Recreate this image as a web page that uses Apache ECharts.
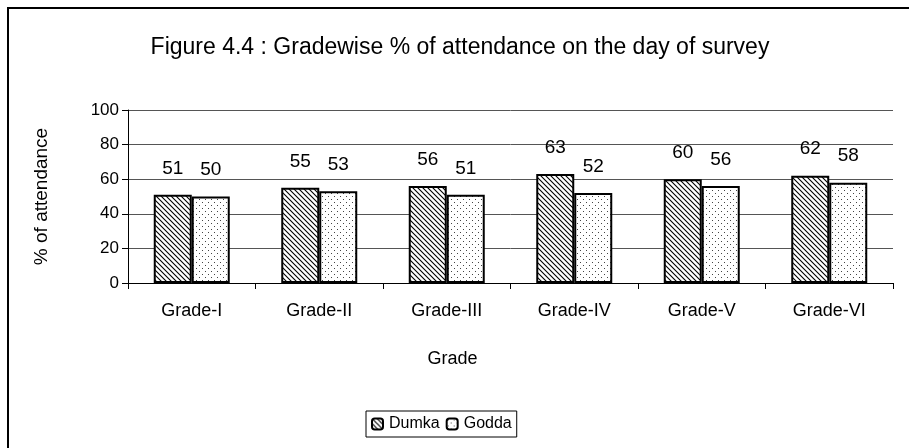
<!DOCTYPE html>
<html>
<head>
<meta charset="utf-8">
<script src="https://cdn.jsdelivr.net/npm/echarts@6/dist/echarts.min.js"></script>
<style>
  html, body { margin: 0; padding: 0; background: #fff; }
  #chart { width: 909px; height: 448px; }
</style>
</head>
<body>
<div id="chart"></div>
<script>
var grades = ["Grade-I", "Grade-II", "Grade-III", "Grade-IV", "Grade-V", "Grade-VI"];
var dumka = [51, 55, 56, 63, 60, 62];
var godda = [50, 53, 51, 52, 56, 58];
var yTicks = [0, 20, 40, 60, 80, 100];

// hatch pattern for Dumka
function hatch() {
  var c = document.createElement("canvas");
  c.width = 5; c.height = 5;
  var g = c.getContext("2d");
  g.fillStyle = "#fff";
  g.fillRect(0, 0, 5, 5);
  g.strokeStyle = "#000";
  g.lineWidth = 1.1;
  g.beginPath();
  g.moveTo(-3, -3); g.lineTo(8, 8);
  g.moveTo(-3, 2); g.lineTo(8, 13);
  g.moveTo(-3, -8); g.lineTo(8, 3);
  g.stroke();
  return c;
}

// dot pattern for Godda
function dots() {
  var c = document.createElement("canvas");
  c.width = 6; c.height = 6;
  var g = c.getContext("2d");
  g.fillStyle = "#fff";
  g.fillRect(0, 0, 6, 6);
  g.fillStyle = "#444";
  g.fillRect(1, 1, 1, 1);
  g.fillRect(4, 4, 1, 1);
  return c;
}

var font = "'Liberation Sans', Arial, sans-serif";
var chart = echarts.init(document.getElementById("chart"));

var labelStyle = {
  show: true,
  position: "top",
  distance: 17,
  color: "#000",
  fontSize: 19,
  fontFamily: font
};

var option = {
  animation: false,
  backgroundColor: "#fff",
  textStyle: { fontFamily: font },
  title: {
    text: "Figure 4.4 : Gradewise % of attendance on the day of survey",
    left: 455,
    textAlign: "center",
    top: 31,
    textStyle: { fontSize: 23, fontWeight: "normal", color: "#000", fontFamily: font }
  },
  graphic: [{
    type: "rect",
    shape: { x: 8, y: 8, width: 1200, height: 1000 },
    style: { fill: null, stroke: "#000", lineWidth: 2 },
    silent: true
  }],
  legend: {
    data: ["Dumka", "Godda"],
    left: 366,
    top: 411,
    itemWidth: 11,
    itemHeight: 11,
    itemGap: 6,
    padding: [5, 5],
    borderColor: "#000",
    borderWidth: 1,
    textStyle: { fontSize: 16, color: "#000", fontFamily: font, padding: [0, 0, 0, 1] }
  },
  grid: { left: 128, right: 16, top: 110, bottom: 165 },
  xAxis: {
    type: "category",
    data: grades,
    name: "Grade",
    nameLocation: "middle",
    nameGap: 67,
    nameTextStyle: { fontSize: 18, color: "#000", padding: [0, 116, 0, 0] },
    axisLine: { lineStyle: { color: "#000", width: 1 } },
    axisTick: { show: true, length: 6, lineStyle: { color: "#000" } },
    axisLabel: { fontSize: 18, color: "#000", margin: 19 }
  },
  yAxis: {
    type: "value",
    min: yTicks[0],
    max: yTicks[yTicks.length - 1],
    interval: 20,
    name: "% of attendance",
    nameLocation: "middle",
    nameGap: 77,
    nameTextStyle: { fontSize: 19, color: "#000" },
    axisLine: { show: true, lineStyle: { color: "#000" } },
    axisTick: { show: true, length: 6, lineStyle: { color: "#000" } },
    axisLabel: { fontSize: 17, color: "#000", margin: 9 },
    splitLine: { lineStyle: { color: "#555", width: 1 } }
  },
  series: [
    {
      name: "Dumka",
      type: "bar",
      data: dumka,
      barWidth: 38,
      barGap: "0%",
      itemStyle: { color: { image: hatch(), repeat: "repeat" }, borderColor: "#000", borderWidth: 2 },
      label: labelStyle
    },
    {
      name: "Godda",
      type: "bar",
      data: godda,
      barWidth: 38,
      itemStyle: { color: { image: dots(), repeat: "repeat" }, borderColor: "#000", borderWidth: 2 },
      label: labelStyle
    }
  ]
};

chart.setOption(option);
</script>
</body>
</html>
